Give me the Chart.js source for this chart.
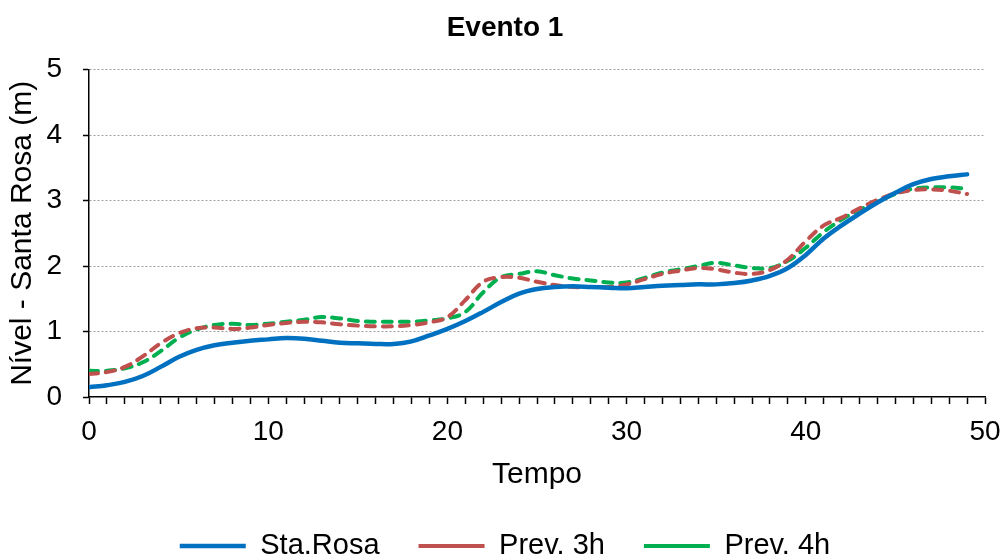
<!DOCTYPE html>
<html>
<head>
<meta charset="utf-8">
<script src="https://cdn.jsdelivr.net/npm/chart.js@4.4.0/dist/chart.umd.min.js"></script>
<style>
  html, body { margin: 0; padding: 0; background: #fff; }
  #wrap { width: 1005px; height: 559px; }
</style>
</head>
<body>
<div id="wrap"><canvas id="chart" width="1005" height="559"></canvas></div>
<script>
// time steps 0..49
const tempo = [0, 1, 2, 3, 4, 5, 6, 7, 8, 9,
  10, 11, 12, 13, 14, 15, 16, 17, 18, 19,
  20, 21, 22, 23, 24, 25, 26, 27, 28, 29,
  30, 31, 32, 33, 34, 35, 36, 37, 38, 39,
  40, 41, 42, 43, 44, 45, 46, 47, 48, 49];

const staRosa = [0.15, 0.18, 0.23, 0.32, 0.46, 0.61, 0.72, 0.79, 0.83, 0.86,
  0.88, 0.90, 0.89, 0.86, 0.83, 0.82, 0.81, 0.81, 0.85, 0.94,
  1.04, 1.16, 1.30, 1.45, 1.58, 1.65, 1.68, 1.69, 1.68, 1.67,
  1.66, 1.68, 1.70, 1.71, 1.72, 1.72, 1.74, 1.78, 1.85, 1.97,
  2.17, 2.42, 2.62, 2.80, 2.97, 3.12, 3.25, 3.33, 3.37, 3.40];

const prev3h = [0.35, 0.38, 0.46, 0.62, 0.82, 0.97, 1.05, 1.06, 1.04, 1.06,
  1.10, 1.13, 1.15, 1.14, 1.11, 1.09, 1.08, 1.08, 1.10, 1.14,
  1.22, 1.48, 1.76, 1.83, 1.82, 1.76, 1.71, 1.68, 1.68, 1.68,
  1.72, 1.80, 1.88, 1.93, 1.97, 1.95, 1.90, 1.88, 1.94, 2.10,
  2.38, 2.62, 2.74, 2.88, 3.01, 3.11, 3.16, 3.17, 3.15, 3.10];

const prev4h = [0.40, 0.40, 0.44, 0.53, 0.70, 0.90, 1.03, 1.10, 1.12, 1.10,
  1.12, 1.15, 1.18, 1.22, 1.20, 1.16, 1.15, 1.15, 1.15, 1.17,
  1.20, 1.30, 1.60, 1.83, 1.88, 1.92, 1.86, 1.81, 1.78, 1.75,
  1.75, 1.82, 1.90, 1.95, 2.00, 2.05, 2.01, 1.97, 1.97, 2.08,
  2.28, 2.52, 2.71, 2.86, 2.98, 3.10, 3.18, 3.20, 3.20, 3.18];

const xTickLabels = [0, 10, 20, 30, 40, 50];
const yTickLabels = [0, 1, 2, 3, 4, 5];

const FONT = 'Liberation Sans, Arial, sans-serif';

function pts(arr) {
  return tempo.map((t, i) => ({ x: t, y: arr[i] }));
}

const ctx = document.getElementById('chart').getContext('2d');
new Chart(ctx, {
  type: 'line',
  data: {
    datasets: [
      {
        label: 'Sta.Rosa',
        data: pts(staRosa),
        borderColor: '#0070C0',
        backgroundColor: '#0070C0',
        borderWidth: 4.5,
        pointRadius: 0,
        tension: 0.4,
        borderCapStyle: 'round'
      },
      {
        label: 'Prev. 3h',
        data: pts(prev3h),
        borderColor: '#C0504D',
        backgroundColor: '#C0504D',
        borderWidth: 4,
        borderDash: [9, 8],
        borderCapStyle: 'round',
        pointRadius: 0,
        tension: 0.4
      },
      {
        label: 'Prev. 4h',
        data: pts(prev4h),
        borderColor: '#00B050',
        backgroundColor: '#00B050',
        borderWidth: 4,
        borderDash: [9, 8],
        borderCapStyle: 'round',
        pointRadius: 0,
        tension: 0.4
      }
    ]
  },
  options: {
    responsive: false,
    animation: false,
    maintainAspectRatio: false,
    layout: { padding: { left: 25, right: 20, top: 0, bottom: -11.5 } },
    plugins: {
      title: {
        display: true,
        text: 'Evento 1',
        color: '#000',
        font: { family: FONT, size: 28, weight: 'bold' },
        padding: { top: 11, bottom: 25 }
      },
      legend: {
        position: 'bottom',
        labels: {
          color: '#000',
          font: { family: FONT, size: 29 },
          usePointStyle: true,
          pointStyle: 'line',
          pointStyleWidth: 66,
          padding: 39
        }
      },
      tooltip: { enabled: false }
    },
    scales: {
      x: {
        type: 'linear',
        min: 0,
        max: 50,
        afterBuildTicks: (scale) => {
          scale.ticks = tempo.concat([50]).map(v => ({ value: v }));
        },
        ticks: {
          autoSkip: false,
          maxRotation: 0,
          padding: 11,
          color: '#000',
          font: { family: FONT, size: 28 },
          callback: (v) => xTickLabels.includes(v) ? String(v) : ''
        },
        grid: {
          drawOnChartArea: false,
          drawTicks: true,
          tickLength: 7,
          tickColor: '#000',
          tickWidth: 1.5
        },
        border: { display: true, color: '#000', width: 1.5 },
        title: {
          display: true,
          text: 'Tempo',
          color: '#000',
          font: { family: FONT, size: 30 },
          padding: { top: 0, bottom: 0 }
        },
        afterFit: (scale) => {
          scale.height = 95.5;
          scale.paddingLeft = 0;
          scale.paddingRight = 0;
        }
      },
      y: {
        min: 0,
        max: 5,
        afterBuildTicks: (scale) => {
          scale.ticks = yTickLabels.map(v => ({ value: v }));
        },
        ticks: {
          padding: 21,
          color: '#000',
          font: { family: FONT, size: 28 }
        },
        grid: {
          color: (c) => (c.tick && c.tick.value === 0) ? 'rgba(0,0,0,0)' : '#a0a0a0',
          lineWidth: 1,
          tickLength: 6,
          tickColor: '#000',
          tickBorderDash: [],
          tickWidth: 1.5
        },
        border: { display: true, color: '#000', width: 1.5, dash: [2, 2] },
        title: {
          display: true,
          text: 'Nível - Santa Rosa (m)',
          color: '#000',
          font: { family: FONT, size: 30 },
          padding: { top: -20, bottom: 0 }
        },
        afterFit: (scale) => { scale.width = 64; }
      }
    }
  }
});
</script>
</body>
</html>
